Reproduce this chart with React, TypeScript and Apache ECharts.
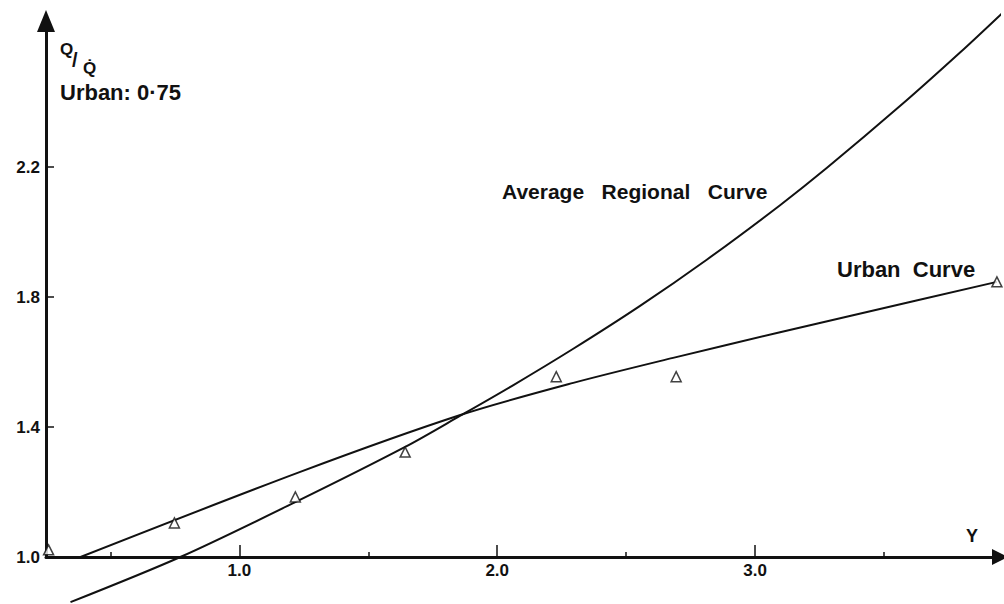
import React, { useEffect, useRef } from 'react';
import * as echarts from 'echarts';

// Average regional growth curve (Y, Q/Q̄)
const avgX = [0.345, 0.771, 1.217, 1.643, 1.857, 2.058, 2.295, 2.554, 2.814, 3.097, 3.279, 3.562, 3.795, 3.957];
const avgY = [0.861, 1.0, 1.169, 1.339, 1.435, 1.527, 1.641, 1.773, 1.916, 2.083, 2.198, 2.388, 2.553, 2.673];

// Urban curve
const urbX = [0.384, 1.236, 1.857, 2.295, 2.682, 3.097, 3.38, 3.938];
const urbY = [1.0, 1.262, 1.437, 1.536, 1.613, 1.692, 1.744, 1.847];

// Observed points (triangles)
const obsX = [0.26, 0.748, 1.217, 1.643, 2.229, 2.694, 3.938];
const obsY = [1.022, 1.105, 1.185, 1.323, 1.555, 1.555, 1.847];

const xTickValues = [1, 2, 3];
const xMinorTickValues = [0.5, 1.5, 2.5, 3.5];
const yTickValues = [1.0, 1.4, 1.8, 2.2];

const FONT = '"Liberation Sans", Arial, sans-serif';
const INK = '#111';

const zip = (xs: number[], ys: number[]) => xs.map((x, i) => [x, ys[i]]);

export default function App() {
  const ref = useRef<HTMLDivElement>(null);
  useEffect(() => {
    if (!ref.current) return;
    const chart = echarts.init(ref.current, null, { renderer: 'svg' });
    const txt = (text: string, x: number, y: number, size: number, align = 'left') => ({
      type: 'text',
      x,
      y,
      style: { text, font: `bold ${size}px ${FONT}`, fill: INK, align, verticalAlign: 'middle' },
    });
    const option: any = {
      animation: false,
      backgroundColor: '#fff',
      grid: { left: 46, top: 21, right: 4, bottom: 47, containLabel: false },
      xAxis: [
        {
          type: 'value',
          min: 0.25,
          max: 3.95,
          position: 'bottom',
          axisLine: {
            show: true,
            onZero: false,
            symbol: ['none', 'triangle'],
            symbolSize: [16, 16],
            lineStyle: { color: INK, width: 3 },
          },
          axisTick: {
            show: true,
            inside: true,
            length: 12,
            customValues: xTickValues,
            lineStyle: { color: INK, width: 1.5 },
          },
          axisLabel: {
            show: true,
            customValues: xTickValues,
            formatter: (v: number) => v.toFixed(1),
            margin: 5,
            color: INK,
            fontFamily: FONT,
            fontWeight: 'bold',
            fontSize: 17,
          },
          splitLine: { show: false },
        },
        {
          type: 'value',
          min: 0.25,
          max: 3.95,
          position: 'bottom',
          axisLine: { show: false, onZero: false },
          axisTick: {
            show: true,
            inside: true,
            length: 5,
            customValues: xMinorTickValues,
            lineStyle: { color: INK, width: 1.5 },
          },
          axisLabel: { show: false },
          splitLine: { show: false },
        },
      ],
      yAxis: {
        type: 'value',
        min: 1.0,
        max: 2.65,
        axisLine: {
          show: true,
          onZero: false,
          symbol: ['none', 'triangle'],
          symbolSize: [18, 22],
          lineStyle: { color: INK, width: 3 },
        },
        axisTick: {
          show: true,
          inside: true,
          length: 8,
          customValues: yTickValues,
          lineStyle: { color: INK, width: 1.5 },
        },
        axisLabel: {
          show: true,
          customValues: yTickValues,
          formatter: (v: number) => v.toFixed(1),
          margin: 6,
          color: INK,
          fontFamily: FONT,
          fontWeight: 'bold',
          fontSize: 17,
        },
        splitLine: { show: false },
      },
      series: [
        {
          name: 'Average Regional Curve',
          type: 'line',
          data: zip(avgX, avgY),
          smooth: 0.3,
          showSymbol: false,
          clip: false,
          lineStyle: { color: INK, width: 2 },
        },
        {
          name: 'Urban Curve',
          type: 'line',
          data: zip(urbX, urbY),
          smooth: 0.3,
          showSymbol: false,
          clip: false,
          lineStyle: { color: INK, width: 2 },
        },
        {
          name: 'Observed',
          type: 'scatter',
          data: zip(obsX, obsY),
          symbol: 'triangle',
          symbolSize: [10, 10],
          clip: false,
          itemStyle: { color: '#fff', borderColor: INK, borderWidth: 1.5 },
          z: 5,
        },
      ],
      graphic: [
        txt('Q', 60, 49, 17),
        txt('/', 72, 60, 20),
        txt('Q\u0307', 83, 68, 17),
        txt('Urban: 0·75', 60, 92, 22),
        txt('Average   Regional   Curve', 502, 191, 21),
        txt('Urban  Curve', 837, 269, 22),
        txt('Y', 972, 536, 18, 'center'),
      ],
    };
    chart.setOption(option);
    return () => chart.dispose();
  }, []);
  return (
    <div
      ref={ref}
      style={{ position: 'absolute', left: 0, top: 0, width: 1004, height: 604, background: '#fff' }}
    />
  );
}
